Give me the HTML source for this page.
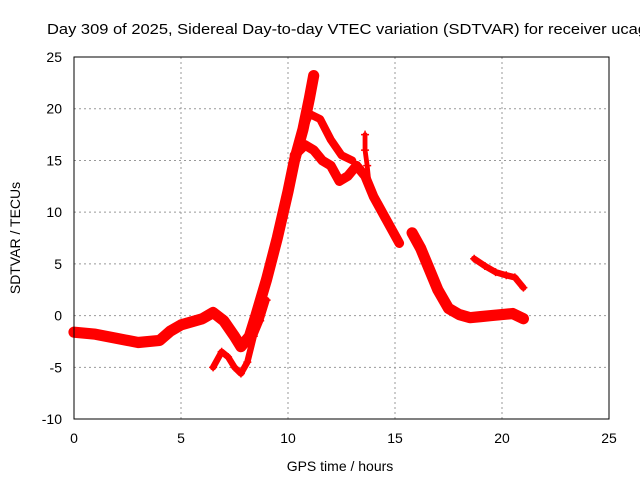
<!DOCTYPE html>
<html><head><meta charset="utf-8"><style>
body{margin:0;background:#fff}
svg{display:block;font-family:"Liberation Sans",sans-serif}
</style></head><body>
<svg id="chart" width="640" height="480">
<rect width="640" height="480" fill="#fff"/>
<text x="47" y="34" font-size="15" textLength="600" lengthAdjust="spacingAndGlyphs">Day 309 of 2025, Sidereal Day-to-day VTEC variation (SDTVAR) for receiver ucag</text>
<g id="grid"></g>
<g id="series"></g>
<rect x="74" y="57" width="535" height="362" fill="none" stroke="#000" stroke-width="1"/>
<g id="ticks"></g>
<text x="340" y="471" font-size="14" text-anchor="middle">GPS time / hours</text>
<text transform="translate(20,238) rotate(-90)" font-size="14" text-anchor="middle">SDTVAR / TECUs</text>
</svg>
<script>
const xTicks=[0,5,10,15,20,25];
const yTicks=[-10,-5,0,5,10,15,20,25];
const mainX=[0,1,2,3,4,4.5,5,6,6.5,7,7.5,7.8,8.2,8.5,9,9.5,10,10.3,10.7,11,11.2];
const mainY=[-1.6,-1.8,-2.2,-2.6,-2.4,-1.5,-0.9,-0.3,0.3,-0.5,-2,-3,-2,0,3.5,7.5,12,15,18,21,23.2];
const dipX=[6.5,6.9,7.2,7.5,7.8,8.1,8.4,8.7,9];
const dipY=[-5,-3.5,-4,-5,-5.6,-4.5,-2,-0.5,1.5];
const peakX=[10.3,10.8,11.2,11.6,12,12.4,12.8,13.2,13.6,14,14.4,14.8,15.2];
const peakY=[15.5,16.5,16,15,14.5,13,13.5,14.5,13.5,11.5,10,8.5,7];
const upX=[10.5,11,11.5,12,12.5,13];
const upY=[17,19.5,19,17,15.5,15];
const spikeX=[13.6,13.6,13.7,13.8];
const spikeY=[17.5,16,14.5,12.5];
const c1X=[15.8,16.2,16.6,17,17.5,18,18.5,19,19.5,20,20.5,21];
const c1Y=[8,6.5,4.5,2.5,0.7,0.1,-0.2,-0.1,0,0.1,0.2,-0.3];
const c2X=[18.7,19.2,19.7,20.2,20.6,21];
const c2Y=[5.5,4.8,4.2,3.9,3.7,2.7];
const SERIES=[[mainX,mainY,7],[dipX,dipY,4],[peakX,peakY,6],[upX,upY,5],[spikeX,spikeY,3],[c1X,c1Y,7],[c2X,c2Y,4]];
const X=v=>74+v*21.4, Y=v=>315.6-v*10.343;
const NS="http://www.w3.org/2000/svg";
const g=document.getElementById('grid'),t=document.getElementById('ticks'),s=document.getElementById('series');
function mk(tag,a,p){const e=document.createElementNS(NS,tag);for(const k in a)e.setAttribute(k,a[k]);p.appendChild(e);return e;}
xTicks.forEach(v=>{
  if(v>0&&v<25){const l=mk('line',{x1:X(v),x2:X(v),y1:57,y2:419,stroke:'#999','stroke-dasharray':'2,3'},g);
  
  }
  const tx=mk('text',{x:X(v),y:443,'font-size':14,'text-anchor':'middle'},t);tx.textContent=v;
  
  
});
yTicks.forEach(v=>{
  if(v>-10&&v<25){const l=mk('line',{x1:74,x2:609,y1:Y(v),y2:Y(v),stroke:'#999','stroke-dasharray':'2,3'},g);
  
  }
  const tx=mk('text',{x:62,y:Y(v)+5,'font-size':14,'text-anchor':'end'},t);tx.textContent=v;
  
  
});
SERIES.forEach(([xs,ys,w])=>{
  const pts=xs.map((x,i)=>X(x)+','+Y(ys[i])).join(' ');
  const pl=mk('polyline',{points:pts,fill:'none',stroke:'#f00','stroke-width':w*1.6,'stroke-linejoin':'round','stroke-linecap':'round'},s);
  
  
  xs.forEach((x,i)=>{
    const px=X(x),py=Y(ys[i]);
    const m=mk('path',{d:`M${px-4},${py}h8M${px},${py-4}v8`,stroke:'#f00','stroke-width':1.5},s);
    
    
  });
});
</script>
</body></html>
